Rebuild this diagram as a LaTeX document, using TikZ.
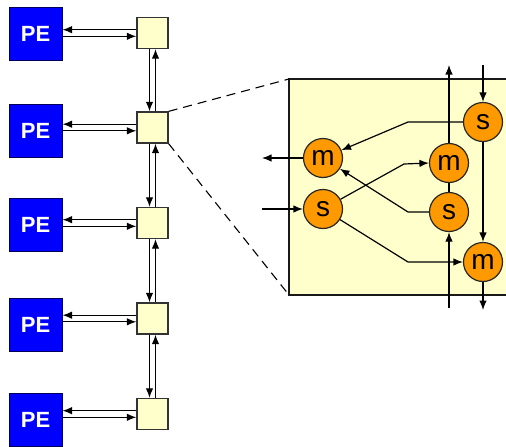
\documentclass[tikz,border=0pt]{standalone}
\usepackage{fontspec}
\setmainfont{Liberation Sans}
\usetikzlibrary{arrows.meta}
\definecolor{peblue}{RGB}{0,0,255}
\definecolor{peborder}{RGB}{0,0,90}
\definecolor{lightyel}{RGB}{255,255,204}
\definecolor{orng}{RGB}{255,153,0}
\tikzset{
  pebox/.style={draw=peborder, fill=peblue, line width=1pt, minimum width=53pt, minimum height=53pt, inner sep=0pt, text=white, font=\fontsize{22}{22}\selectfont\bfseries},
  swbox/.style={draw=black!80, fill=lightyel, line width=1.3pt, minimum width=31pt, minimum height=31pt, inner sep=0pt},
  unit/.style={circle, draw=black!85, fill=orng, line width=1.2pt, minimum size=39pt, inner sep=0pt, font=\fontsize{28}{28}\selectfont},
  arr/.style={-{Latex[length=9.5pt,width=7.5pt]}, line width=1.2pt, black},
  ln/.style={line width=1.2pt, black},
  zoomline/.style={line width=1.1pt, black, dash pattern=on 9pt off 6pt}
}
\begin{document}
\begin{tikzpicture}[x=1pt,y=-1pt]
\useasboundingbox (0,0) rectangle (506,447);
% left column
\foreach \i/\py/\qy in {1/33.5/33,2/130.5/127.5,3/224.5/223,4/324.5/318.5,5/419.5/414}{
  \node[pebox] (p\i) at (35.5,\py) {PE};
  \node[swbox] (q\i) at (152.5,\qy) {};
  \draw[arr] ([yshift=3.3pt]q\i.west) -- ([yshift=3.3pt]q\i.west -| p\i.east);
  \draw[arr] ([yshift=-3.3pt]q\i.west -| p\i.east) -- ([yshift=-3.3pt]q\i.west);
}
\foreach \a/\b in {1/2,2/3,3/4,4/5}{
  \draw[arr] ([xshift=-3pt]q\a.south) -- ([xshift=-3pt]q\b.north);
  \draw[arr] ([xshift=3pt]q\b.north) -- ([xshift=3pt]q\a.south);
}
% zoomed switch
\coordinate (bnw) at (289,79);
\coordinate (bsw) at (289,295);
\draw[line width=1.2pt, draw=black!90, fill=lightyel] (bnw) rectangle (520,295);
\draw[zoomline] (q2.north east) -- (bnw);
\draw[zoomline] (q2.south east) -- (bsw);
% units
\node[unit] (sTR) at (483,122) {s};
\node[unit] (mL)  at (323,158) {m};
\node[unit] (mM)  at (449,163) {m};
\node[unit] (sL)  at (323,209) {s};
\node[unit] (sM)  at (449,212) {s};
\node[unit] (mBR) at (483,262) {m};
% external ports
\coordinate (tin) at (483,65);
\coordinate (bout) at (483,310);
\coordinate (tout) at (449,65);
\coordinate (bin) at (449,308);
\coordinate (lout) at (262,158);
\coordinate (lin) at (262,209);
% connections
\draw[arr] (tin) -- (sTR);
\draw[arr] (sTR) -- (mBR);
\draw[arr] (mBR) -- (bout);
\draw[arr] (bin) -- (sM);
\draw[ln] (sM) -- (mM);
\draw[arr] (mM) -- (tout);
\draw[arr] (mL) -- (lout);
\draw[arr] (lin) -- (sL);
\draw[arr] (sTR.west) -- (408,122) -- (mL);
\draw[arr] (sL) -- (404,164) -- (mM.west);
\draw[arr] (sM.west) -- (408,212) -- (mL);
\draw[arr] (sL) -- (408,262) -- (mBR.west);
\end{tikzpicture}
\end{document}
